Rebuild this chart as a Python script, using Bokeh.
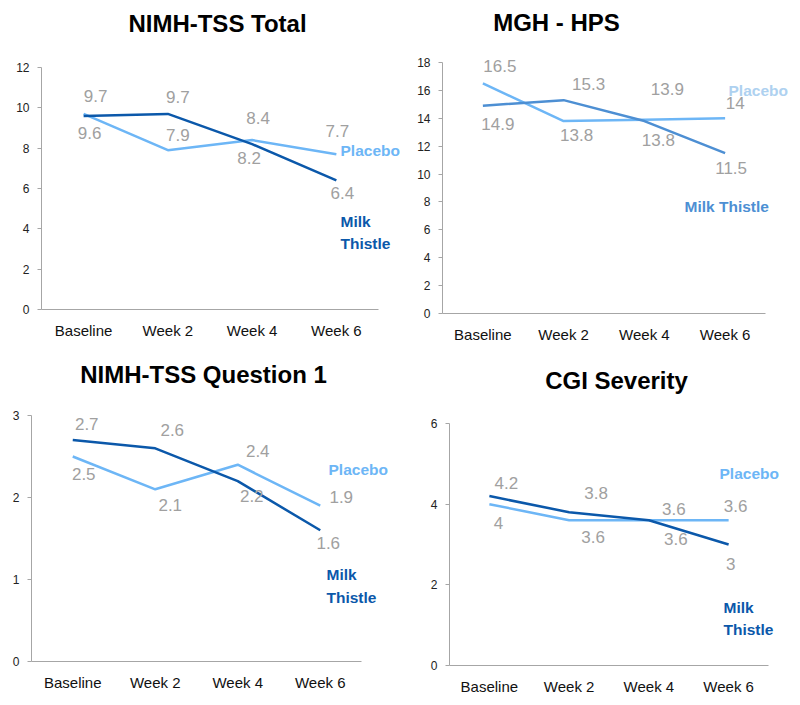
from bokeh.plotting import figure
from bokeh.layouts import column, row
from bokeh.models import Range1d, FixedTicker, Label, ColumnDataSource
from bokeh.core.properties import value
from bokeh.embed import file_html
from bokeh.resources import INLINE

# ---------------- data ----------------
CATS = ["Baseline", "Week 2", "Week 4", "Week 6"]

TITLES = ["NIMH-TSS Total", "MGH - HPS", "NIMH-TSS Question 1", "CGI Severity"]

TSS_TOTAL_PLACEBO = [9.7, 7.9, 8.4, 7.7]
TSS_TOTAL_MILK = [9.6, 9.7, 8.2, 6.4]

HPS_PLACEBO = [16.5, 13.8, 13.9, 14.0]
HPS_MILK = [14.9, 15.3, 13.8, 11.5]

Q1_PLACEBO = [2.5, 2.1, 2.4, 1.9]
Q1_MILK = [2.7, 2.6, 2.2, 1.6]

CGI_PLACEBO = [4.0, 3.6, 3.6, 3.6]
CGI_MILK = [4.2, 3.8, 3.6, 3.0]

TSS_TOTAL_TICKS = [0, 2, 4, 6, 8, 10, 12]
HPS_TICKS = [0, 2, 4, 6, 8, 10, 12, 14, 16, 18]
Q1_TICKS = [0, 1, 2, 3]
CGI_TICKS = [0, 2, 4, 6]

# ---------------- style ----------------
DARK = "#0b58aa"
LIGHT = "#6db6f6"
MID = "#4d8fd3"
PALE = "#aed1f0"
GREY = "#a0a0a0"
AXIS = "#a6a6a6"
SANS = "Liberation Sans"

# panel geometry in page pixels:
# ox/oy/w/h figure box, L/R ends of the x axis, YT/YB pixel rows of top tick and zero
PANELS = [
    dict(ox=0, oy=0, w=400, h=350, L=41, R=378, YT=67, YB=309),
    dict(ox=400, oy=0, w=400, h=350, L=442, R=765, YT=62, YB=313),
    dict(ox=0, oy=350, w=400, h=355, L=31, R=361, YT=415, YB=661),
    dict(ox=400, oy=350, w=400, h=355, L=449, R=768, YT=423, YB=665),
]

# value-label offsets (screen px) for placebo / milk thistle
OFFS = [
    dict(p=[(12, -18), (10, -15), (6, -22), (1, -23)],
         m=[(6, 17), (10, -17), (-3, 14), (6, 13)]),
    dict(p=[(17, -17), (13, 14), (23, -31), (10, -15)],
         m=[(15, 18), (25, -16), (14, 19), (6, 15)]),
    dict(p=[(11, 17), (15, 16), (20, -14), (21, -9)],
         m=[(14, -16), (17, -18), (14, 15), (8, 13)]),
    dict(p=[(9, 19), (24, 17), (25, -11), (7, -14)],
         m=[(17, -13), (27, -19), (27, 19), (2, 19)]),
]

# series-name anchors (page px): (text, x_left, y_center, color)
NAMES = [
    [("Placebo", 340, 150, LIGHT), ("Milk", 340, 221, DARK), ("Thistle", 340, 243, DARK)],
    [("Placebo", 728, 90, PALE), ("Milk Thistle", 684, 206, MID)],
    [("Placebo", 328, 469, LIGHT), ("Milk", 326, 574, DARK), ("Thistle", 326, 597, DARK)],
    [("Placebo", 719, 473, LIGHT), ("Milk", 723, 607, DARK), ("Thistle", 723, 629, DARK)],
]
TITLE_POS = [(217, 23), (556, 22), (203, 374), (616, 380)]

N = len(CATS)
XPOS = [i + 0.5 for i in range(N)]  # category centres on the x scale


def make_panel(i, placebo, milk, ticks, milk_color):
    g = PANELS[i]
    ymax = ticks[-1]
    sy_ = (g["YB"] - g["YT"]) / ymax          # px per y unit
    sx_ = (g["R"] - g["L"]) / N               # px per category
    y1 = ymax + (g["YT"] - g["oy"]) / sy_     # frame reaches figure top
    x1 = (g["ox"] + g["w"] - g["L"]) / sx_    # frame reaches figure right
    p = figure(
        x_range=Range1d(0, x1), y_range=Range1d(0, y1),
        width=g["w"], height=g["h"],
        output_backend="svg", toolbar_location=None,
        min_border_left=g["L"] - g["ox"],
        min_border_right=0,
        min_border_top=0,
        min_border_bottom=g["oy"] + g["h"] - g["YB"],
    )
    p.title.visible = False
    p.outline_line_color = None
    p.xgrid.grid_line_color = None
    p.ygrid.grid_line_color = None

    p.yaxis.ticker = FixedTicker(ticks=ticks)
    p.yaxis.bounds = (0, ymax)
    p.yaxis.axis_line_color = AXIS
    p.yaxis.major_tick_line_color = AXIS
    p.yaxis.major_tick_out = 4
    p.yaxis.major_tick_in = 0
    p.yaxis.minor_tick_line_color = None
    p.yaxis.major_label_standoff = 8
    p.yaxis.major_label_text_font = SANS
    p.yaxis.major_label_text_font_size = "12px"
    p.yaxis.major_label_text_color = "#222222"

    p.xaxis.ticker = FixedTicker(ticks=XPOS)
    p.xaxis.major_label_overrides = {x: c for x, c in zip(XPOS, CATS)}
    p.xaxis.bounds = (0, N)
    p.xaxis.axis_line_color = AXIS
    p.xaxis.major_tick_line_color = None
    p.xaxis.major_tick_out = 0
    p.xaxis.major_tick_in = 0
    p.xaxis.minor_tick_line_color = None
    p.xaxis.major_label_standoff = 12
    p.xaxis.major_label_text_font = SANS
    p.xaxis.major_label_text_font_size = "15px"
    p.xaxis.major_label_text_color = "#111111"

    p.line(XPOS, placebo, line_color=LIGHT, line_width=2.5)
    p.line(XPOS, milk, line_color=milk_color, line_width=2.5)

    o = OFFS[i]
    src = ColumnDataSource(dict(
        x=XPOS + XPOS,
        y=list(placebo) + list(milk),
        t=[f"{v:g}" for v in placebo] + [f"{v:g}" for v in milk],
        dx=[d[0] for d in o["p"]] + [d[0] for d in o["m"]],
        dy=[d[1] for d in o["p"]] + [d[1] for d in o["m"]],
    ))
    p.text(x="x", y="y", text="t", x_offset="dx", y_offset="dy", source=src,
           text_color=GREY, text_font=value(SANS), text_font_size="17px",
           text_align="center", text_baseline="middle")

    def to_screen(px, py):
        return (px - g["L"], g["YB"] - py)

    tx, ty = to_screen(*TITLE_POS[i])
    p.add_layout(Label(x=tx, y=ty, x_units="screen", y_units="screen",
                       text=TITLES[i], text_font=SANS,
                       text_font_style="bold", text_font_size="24px",
                       text_color="black", text_align="center",
                       text_baseline="middle"))
    for (txt, lx, ly, col) in NAMES[i]:
        sx, sy = to_screen(lx, ly)
        p.add_layout(Label(x=sx, y=sy, x_units="screen", y_units="screen",
                           text=txt, text_font=SANS,
                           text_font_style="bold", text_font_size="15.5px",
                           text_color=col, text_align="left",
                           text_baseline="middle"))
    return p


p1 = make_panel(0, TSS_TOTAL_PLACEBO, TSS_TOTAL_MILK, TSS_TOTAL_TICKS, DARK)
p2 = make_panel(1, HPS_PLACEBO, HPS_MILK, HPS_TICKS, MID)
p3 = make_panel(2, Q1_PLACEBO, Q1_MILK, Q1_TICKS, DARK)
p4 = make_panel(3, CGI_PLACEBO, CGI_MILK, CGI_TICKS, DARK)

layout = column(row(column(p1), column(p2)), row(column(p3), column(p4)))
open("out.html", "w").write(file_html(layout, INLINE))
